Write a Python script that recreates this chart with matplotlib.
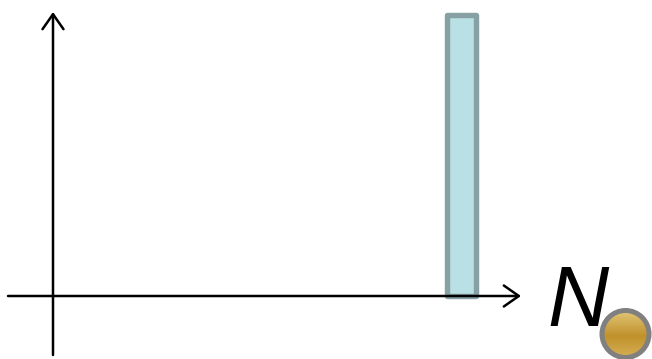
import numpy as np
import matplotlib
matplotlib.use("Agg")
import matplotlib.pyplot as plt
from matplotlib.patches import Circle

# One bar at the far right of the N axis
categories = ["N"]
values = [1.0]
positions = [1.0]

W, H = 652, 359
fig = plt.figure(figsize=(W / 100, H / 100), dpi=100)
ax = fig.add_axes([0, 0, 1, 1])

# data units: origin at the axis crossing, x=1 at the bar centre, y=1 at the bar top
ox, oy = 53.0, 296.0
sx, sy = 408.0, 281.0
ax.set_xlim(-ox / sx, (W - ox) / sx)
ax.set_ylim((oy - H) / sy, oy / sy)
ax.axis("off")

ax.bar(positions, values, width=29 / sx, bottom=0, align="center",
       color="#b9e0e4", edgecolor="#86a0a3", linewidth=3.9, zorder=2,
       joinstyle="round")

def px(x):
    return (x - ox) / sx

def py(y):
    return (oy - y) / sy

arrow = dict(arrowstyle="->,head_length=0.6,head_width=0.42", color="black",
             lw=1.8, mutation_scale=18, shrinkA=0, shrinkB=0)
# horizontal axis
ax.annotate("", xy=(px(521), 0), xytext=(px(8), 0), arrowprops=arrow, zorder=3)
# vertical axis
ax.annotate("", xy=(0, py(12)), xytext=(0, py(355)), arrowprops=arrow, zorder=3)

# axis label
ax.text(px(547), py(326), categories[0], fontsize=61, fontstyle="italic",
        family="Liberation Sans", ha="left", va="baseline", color="black")

# gold ball with grey rim, drawn in pixel space
grad_ax = fig.add_axes([0, 0, 1, 1])
grad_ax.set_xlim(0, W)
grad_ax.set_ylim(H, 0)
grad_ax.axis("off")
bx, by, r = 625.5, 334.0, 23.5
t = np.linspace(0, 1, 64)[:, None]
top = np.array([0.89, 0.78, 0.47])
mid = np.array([0.75, 0.57, 0.17])
bot = np.array([0.84, 0.68, 0.33])
cols = np.where(t < 0.55, top + (mid - top) * (t / 0.55),
                mid + (bot - mid) * ((t - 0.55) / 0.45))
img = np.repeat(cols[:, None, :], 8, axis=1)
im = grad_ax.imshow(img, extent=(bx - r, bx + r, by + r, by - r),
                    interpolation="bilinear", zorder=4)
im.set_clip_path(Circle((bx, by), r, transform=grad_ax.transData))
grad_ax.add_patch(Circle((bx, by), r, facecolor="none",
                         edgecolor="#808080", linewidth=3.6, zorder=5))

fig.savefig("out.png", dpi=100)
